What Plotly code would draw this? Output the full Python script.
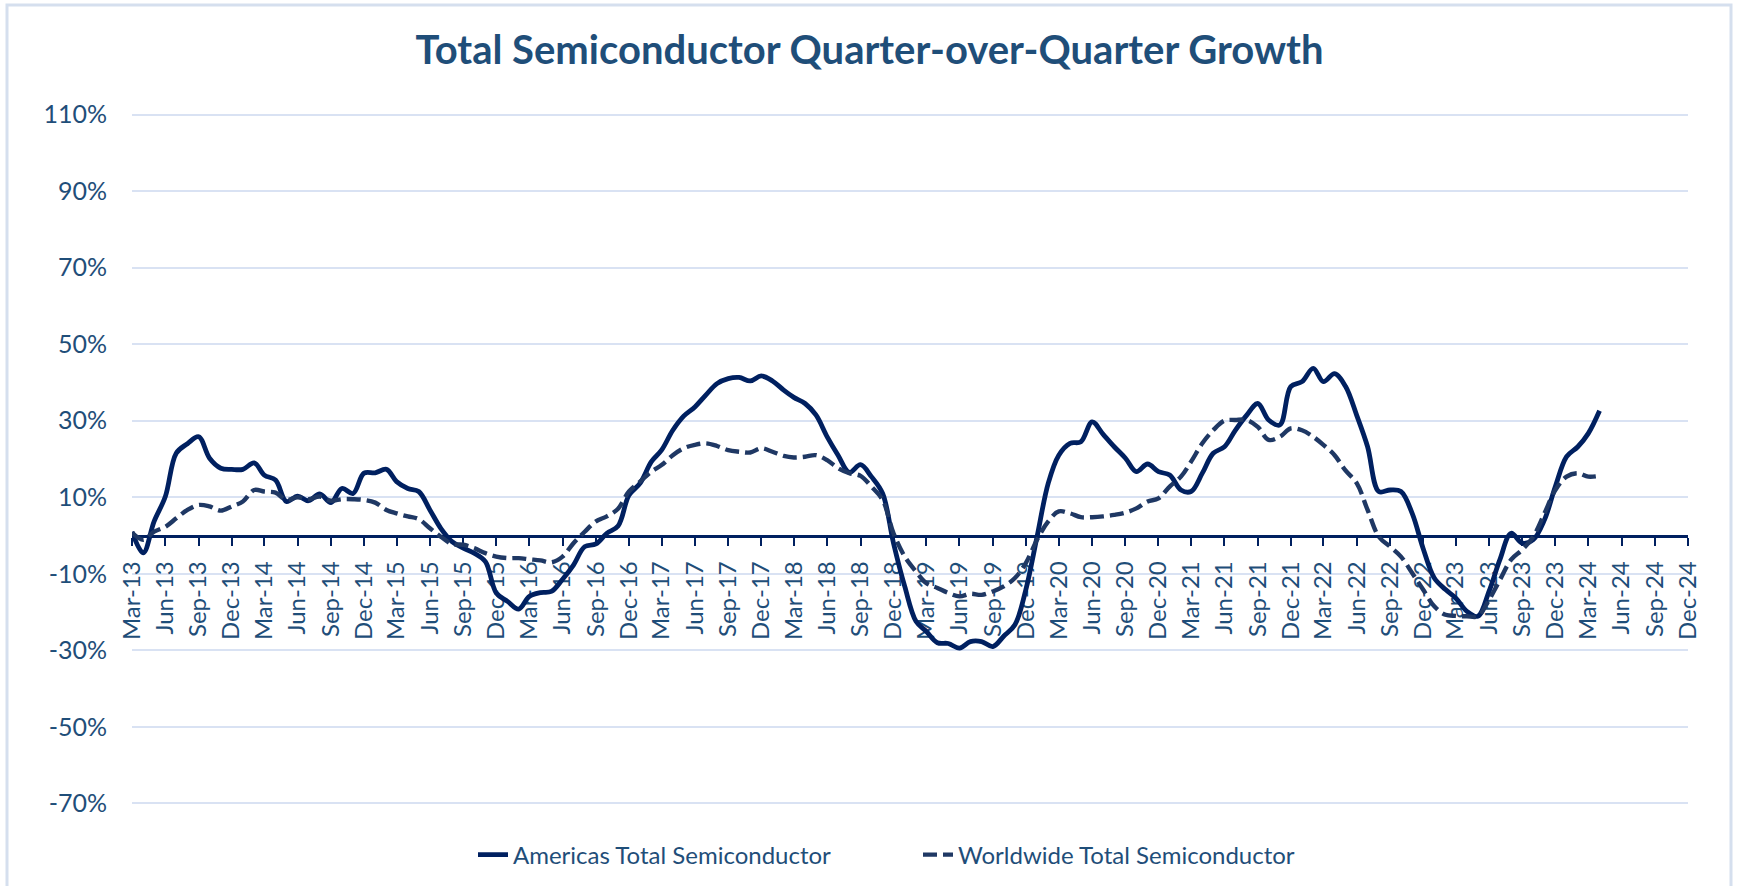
import pandas as pd
import plotly.graph_objects as go

# ---- data (percent QoQ growth, monthly Mar-2013 .. Apr-2024) ----
start_month = "2013-03-01"
americas = [
    1.0, -4.5, 3.7, 10.2, 21.5, 24.0, 25.8, 20.2, 17.6, 17.3, 17.3, 19.0,
    15.8, 14.5, 8.9, 10.3, 9.1, 10.9, 8.6, 12.3, 11.0, 16.3, 16.4, 17.3,
    14.1, 12.3, 11.5, 6.7, 1.9, -1.6, -3.3, -4.6, -6.8, -15.0, -17.2, -19.2,
    -15.9, -14.9, -14.6, -11.4, -7.7, -2.9, -2.2, 0.6, 2.5, 10.5, 13.7, 19.3,
    22.3, 27.5, 31.2, 33.6, 36.7, 39.7, 41.0, 41.3, 40.4, 41.7, 40.4, 38.0,
    36.1, 34.5, 31.5, 25.8, 21.0, 16.5, 18.5, 15.4, 11.0, -2.0, -13.3, -22.4,
    -25.0, -28.0, -28.2, -29.4, -27.7, -27.7, -29.0, -26.3, -23.3, -14.2, -0.3, 13.7,
    21.0, 24.1, 24.5, 29.7, 26.5, 23.2, 20.2, 16.7, 18.7, 16.7, 15.8, 11.9,
    11.5, 16.3, 21.5, 23.2, 27.5, 31.4, 34.5, 30.2, 28.9, 38.9, 40.2, 43.7,
    40.2, 42.3, 39.0, 31.4, 23.2, 11.5, 11.9, 11.5, 5.8, -3.3, -11.1, -14.1,
    -16.3, -19.8, -21.1, -14.6, -6.3, 0.6, -2.0, -1.1, 4.1, 12.8, 20.6, 23.2,
    26.7, 32.6,
]
worldwide = [
    0.8, -1.1, 1.0, 2.3, 4.5, 6.7, 8.0, 7.6, 6.5, 7.6, 8.9, 11.9,
    11.5, 11.2, 9.3, 10.0, 9.5, 10.2, 9.1, 9.5, 9.5, 9.3, 8.6, 6.7,
    5.8, 5.0, 4.3, 1.9, -0.3, -2.2, -2.4, -3.3, -4.6, -5.5, -5.9, -5.9,
    -6.2, -6.5, -7.0, -5.5, -2.0, 1.0, 3.7, 5.0, 7.0, 11.5, 14.1, 16.7,
    18.4, 21.0, 22.8, 23.7, 24.1, 23.4, 22.3, 21.9, 21.7, 22.8, 21.9, 20.8,
    20.4, 20.6, 21.0, 19.7, 17.6, 16.3, 15.6, 12.8, 9.3, 0.6, -5.5, -9.4,
    -12.4, -13.7, -15.0, -15.9, -15.2, -15.5, -14.6, -13.3, -11.1, -7.2, -1.1, 3.7,
    6.3, 5.8, 4.8, 4.8, 5.0, 5.4, 6.0, 7.1, 8.9, 9.7, 12.8, 15.4,
    19.3, 24.1, 27.5, 30.0, 30.2, 30.2, 28.4, 25.0, 25.8, 28.0, 27.5, 25.8,
    23.7, 21.0, 17.0, 13.7, 6.7, -0.3, -2.9, -5.5, -9.8, -14.1, -18.5, -20.7,
    -21.0, -21.1, -21.1, -16.8, -11.6, -6.3, -3.7, -0.3, 5.8, 11.9, 15.4, 16.3,
    15.4, 15.6,
]
series_names = ["Americas Total Semiconductor", "Worldwide Total Semiconductor"]
y_tick_vals = [-70, -50, -30, -10, 10, 30, 50, 70, 90, 110]
y_tick_text = ["-70%", "-50%", "-30%", "-10%", "10%", "30%", "50%", "70%", "90%", "110%"]
x_range = ["2013-03-01", "2024-12-01"]
title_text = "Total Semiconductor Quarter-over-Quarter Growth"

months = pd.date_range(start_month, periods=len(americas), freq="MS")

FONT = "Lato"
TXT = "#1F4E79"
NAVY = "#002060"
SLATE = "#1F3864"

W, H = 1739, 886
ML, MR, MT, MB = 132, 51, 113, 81
pw, ph = W - ML - MR, H - MT - MB

fig = go.Figure()
fig.add_trace(go.Scatter(
    x=months, y=americas, name=series_names[0], mode="lines", hoverinfo="skip",
    line=dict(color=NAVY, width=4.8, shape="spline", smoothing=1.0),
))
fig.add_trace(go.Scatter(
    x=months, y=worldwide, name=series_names[1], mode="lines", hoverinfo="skip",
    line=dict(color=SLATE, width=4.4, dash="14px,6px", shape="spline", smoothing=1.0),
))

ymin, ymax = -70, 110
zero_pos = (0 - ymin) / (ymax - ymin)

fig.update_layout(
    width=W, height=H, autosize=False,
    margin=dict(l=ML, r=MR, t=MT, b=MB, autoexpand=False),
    paper_bgcolor="white", plot_bgcolor="white",
    hovermode=False,
    title=dict(text=title_text, x=0.5, xref="container", xanchor="center",
               y=1 - 50 / H, yref="container", yanchor="middle",
               font=dict(family=FONT, size=40, color=TXT, weight="bold")),
    showlegend=True,
    legend=dict(orientation="h", x=(918 - ML) / pw, xanchor="center",
                y=(805 - 855) / ph, yanchor="middle",
                font=dict(family=FONT, size=24, color=TXT),
                entrywidth=400, entrywidthmode="pixels",
                bgcolor="rgba(0,0,0,0)"),
    xaxis=dict(type="date", range=x_range, tick0=start_month, dtick="M3",
               tickformat="%b-%y", tickangle=-90,
               anchor="free", position=zero_pos, layer="below traces",
               showline=True, linecolor=NAVY, linewidth=2.5,
               ticks="outside", ticklen=8, tickwidth=2, tickcolor=NAVY,
               ticklabelstandoff=6,
               showgrid=False, zeroline=False,
               tickfont=dict(family=FONT, size=24, color=TXT)),
    yaxis=dict(range=[ymin - 0.4, ymax + 0.4], tickmode="array",
               tickvals=y_tick_vals, ticktext=y_tick_text,
               showgrid=True, gridcolor="#D9E2F3", gridwidth=2,
               zeroline=False, showline=False, ticks="",
               ticklabelstandoff=24,
               tickfont=dict(family=FONT, size=25, color=TXT)),
)

# outer chart border
fig.add_shape(type="rect", xref="paper", yref="paper",
              x0=(7 - ML) / pw, x1=(1731 - ML) / pw,
              y0=(805 - 895) / ph, y1=(805 - 5) / ph,
              line=dict(color="#D5DFEE", width=3), fillcolor="rgba(0,0,0,0)",
              layer="below")

fig.write_html("out.html", config={"displayModeBar": False},
               post_script="document.body.style.margin='0';document.body.style.padding='0';")
